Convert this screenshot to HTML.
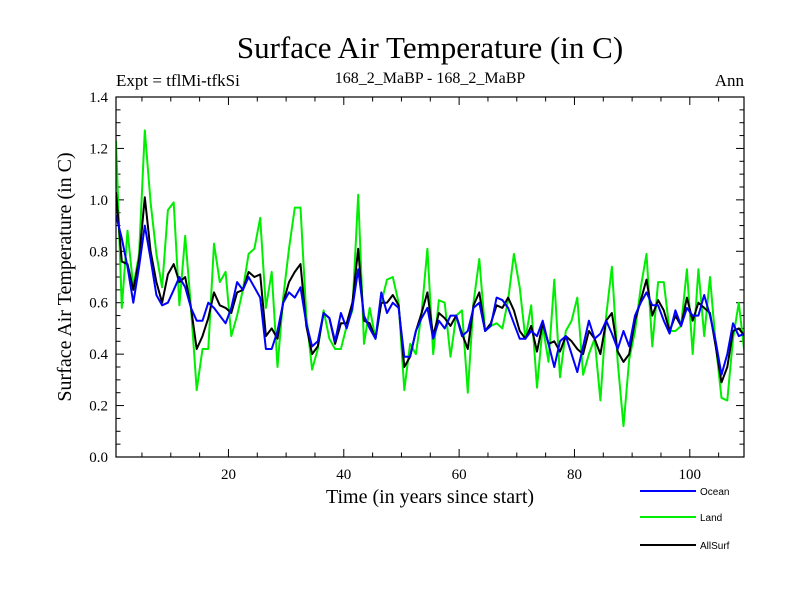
<!DOCTYPE html>
<html><head><meta charset="utf-8"><style>
body{margin:0;background:#fff;}
svg text{font-family:"Liberation Serif",serif;}
</style></head><body>
<svg id="chart" width="800" height="600" viewBox="0 0 800 600">
<text x="430" y="58" font-size="31" text-anchor="middle">Surface Air Temperature (in C)</text>
<text x="116" y="86" font-size="17">Expt = tflMi-tfkSi</text>
<text x="430" y="83" font-size="16" text-anchor="middle">168_2_MaBP - 168_2_MaBP</text>
<text x="744" y="86" font-size="17" text-anchor="end">Ann</text>
<text x="430" y="503" font-size="20" text-anchor="middle">Time (in years since start)</text>
<text transform="translate(71,277) rotate(-90)" font-size="20" text-anchor="middle">Surface Air Temperature (in C)</text>
<g id="axes"></g>
<g id="series" clip-path="url(#clip)"></g>
<defs><clipPath id="clip"><rect x="116" y="97" width="628" height="360"/></clipPath></defs>
<rect x="116" y="97" width="628" height="360" fill="none" stroke="#000" stroke-width="1.2"/>
<g id="legend"></g>
</svg>
<script>
const yTicks=[0.0,0.2,0.4,0.6,0.8,1.0,1.2,1.4];
const yTickLabels=["0.0","0.2","0.4","0.6","0.8","1.0","1.2","1.4"];
const xTicks=[20,40,60,80,100];
const xTickLabels=["20","40","60","80","100"];
const seriesNames=["Ocean","Land","AllSurf"];
const land=[1.23,0.58,0.88,0.66,0.79,1.27,0.99,0.79,0.66,0.96,0.99,0.59,0.86,0.58,0.26,0.42,0.42,0.83,0.68,
0.72,0.47,0.55,0.65,0.79,0.81,0.93,0.58,0.72,0.35,0.62,0.81,0.97,0.97,0.55,0.34,0.42,0.57,0.46,
0.42,0.42,0.51,0.57,1.02,0.44,0.58,0.46,0.60,0.69,0.70,0.60,0.26,0.44,0.40,0.56,0.81,0.40,
0.61,0.60,0.39,0.55,0.57,0.25,0.60,0.77,0.49,0.51,0.52,0.50,0.61,0.79,0.66,0.46,0.59,0.27,
0.51,0.37,0.69,0.31,0.49,0.53,0.62,0.32,0.40,0.46,0.22,0.55,0.74,0.37,0.12,0.38,0.49,0.66,
0.79,0.43,0.68,0.68,0.49,0.49,0.51,0.73,0.40,0.73,0.47,0.70,0.44,0.23,0.22,0.46,0.60,0.40];
const allSurf=[1.03,0.76,0.75,0.65,0.77,1.01,0.80,0.68,0.60,0.71,0.75,0.68,0.70,0.58,0.42,0.47,0.54,0.64,0.59,
0.58,0.56,0.64,0.65,0.72,0.70,0.71,0.47,0.50,0.46,0.60,0.68,0.72,0.75,0.51,0.40,0.43,0.56,0.54,
0.44,0.52,0.52,0.60,0.81,0.53,0.52,0.46,0.60,0.60,0.63,0.59,0.35,0.39,0.49,0.56,0.64,0.47,
0.56,0.54,0.51,0.55,0.48,0.42,0.59,0.64,0.49,0.52,0.59,0.58,0.62,0.57,0.49,0.46,0.51,0.41,
0.52,0.44,0.45,0.41,0.47,0.45,0.42,0.40,0.49,0.46,0.40,0.53,0.56,0.41,0.37,0.40,0.53,0.61,
0.69,0.55,0.61,0.57,0.49,0.55,0.51,0.62,0.53,0.60,0.58,0.56,0.43,0.29,0.35,0.49,0.50,0.47];
const ocean=[0.94,0.85,0.74,0.60,0.74,0.90,0.77,0.63,0.59,0.60,0.65,0.70,0.66,0.58,0.53,0.53,0.60,0.58,0.55,
0.52,0.58,0.68,0.65,0.70,0.66,0.62,0.42,0.42,0.49,0.60,0.64,0.62,0.66,0.52,0.43,0.45,0.56,0.54,
0.45,0.56,0.50,0.58,0.73,0.55,0.50,0.46,0.64,0.56,0.60,0.58,0.39,0.39,0.49,0.54,0.58,0.46,
0.53,0.50,0.55,0.55,0.47,0.49,0.58,0.60,0.49,0.51,0.62,0.61,0.58,0.52,0.46,0.46,0.49,0.47,
0.53,0.44,0.35,0.45,0.47,0.40,0.33,0.43,0.53,0.46,0.48,0.53,0.48,0.42,0.49,0.43,0.55,0.60,
0.64,0.59,0.59,0.53,0.48,0.57,0.51,0.58,0.55,0.55,0.63,0.55,0.45,0.32,0.40,0.52,0.47,0.48];

const NS="http://www.w3.org/2000/svg";
const X0=116,X1=744,Y0=457,Y1=97,TMIN=0.5,TMAX=109.4,VMIN=0,VMAX=1.4;
function xs(t){return X0+(t-TMIN)/(TMAX-TMIN)*(X1-X0);}
function ys(v){return Y0-(v-VMIN)/(VMAX-VMIN)*(Y0-Y1);}
function mk(tag,attrs,parent){const e=document.createElementNS(NS,tag);for(const k in attrs)e.setAttribute(k,attrs[k]);parent.appendChild(e);return e;}
const axes=document.getElementById('axes');
// y ticks
for(let v=0;v<=1.4001;v+=0.05){
  const maj=Math.abs(v/0.2-Math.round(v/0.2))<1e-6;
  const L=maj?8:4.5,y=ys(v);
  const a=mk('line',{x1:X0,x2:X0+L,y1:y,y2:y,stroke:'#000','stroke-width':1},axes);
  
  
  const b=mk('line',{x1:X1,x2:X1-L,y1:y,y2:y,stroke:'#000','stroke-width':1},axes);
  
  
}
yTicks.forEach((v,i)=>{
  const t=mk('text',{x:108,y:ys(v)+5,'font-size':15,'text-anchor':'end'},axes);
  t.textContent=yTickLabels[i];
  
  
});
for(let t=5;t<=TMAX;t+=5){
  const maj=t%20===0,L=maj?8:4.5,x=xs(t);
  const a=mk('line',{x1:x,x2:x,y1:Y0,y2:Y0-L,stroke:'#000','stroke-width':1},axes);
  
  
  const b=mk('line',{x1:x,x2:x,y1:Y1,y2:Y1+L,stroke:'#000','stroke-width':1},axes);
  
  
}
xTicks.forEach((v,i)=>{
  const t=mk('text',{x:xs(v),y:479,'font-size':15,'text-anchor':'middle'},axes);
  t.textContent=xTickLabels[i];
  
  
});
const sg=document.getElementById('series');
function draw(arr,color,name){
  const pts=arr.map((v,i)=>xs(i+0.5).toFixed(1)+','+ys(v).toFixed(1)).join(' ');
  const p=mk('polyline',{points:pts,fill:'none',stroke:color,'stroke-width':2,'stroke-linejoin':'round'},sg);
  
  
}
draw(land,'#00ee00','land-line');
draw(allSurf,'#000000','allsurf-line');
draw(ocean,'#0000ff','ocean-line');
const lg=document.getElementById('legend');
const lcol=['#0000ff','#00ee00','#000000'];
const ly=[491,517,545];
seriesNames.forEach((n,i)=>{
  const l=mk('line',{x1:640,x2:696,y1:ly[i],y2:ly[i],stroke:lcol[i],'stroke-width':2},lg);
  
  
  const t=mk('text',{x:700,y:ly[i]+4,'font-size':10,style:'font-family:"Liberation Sans",sans-serif'},lg);
  t.textContent=n;
  
  
});
</script>
</body></html>
